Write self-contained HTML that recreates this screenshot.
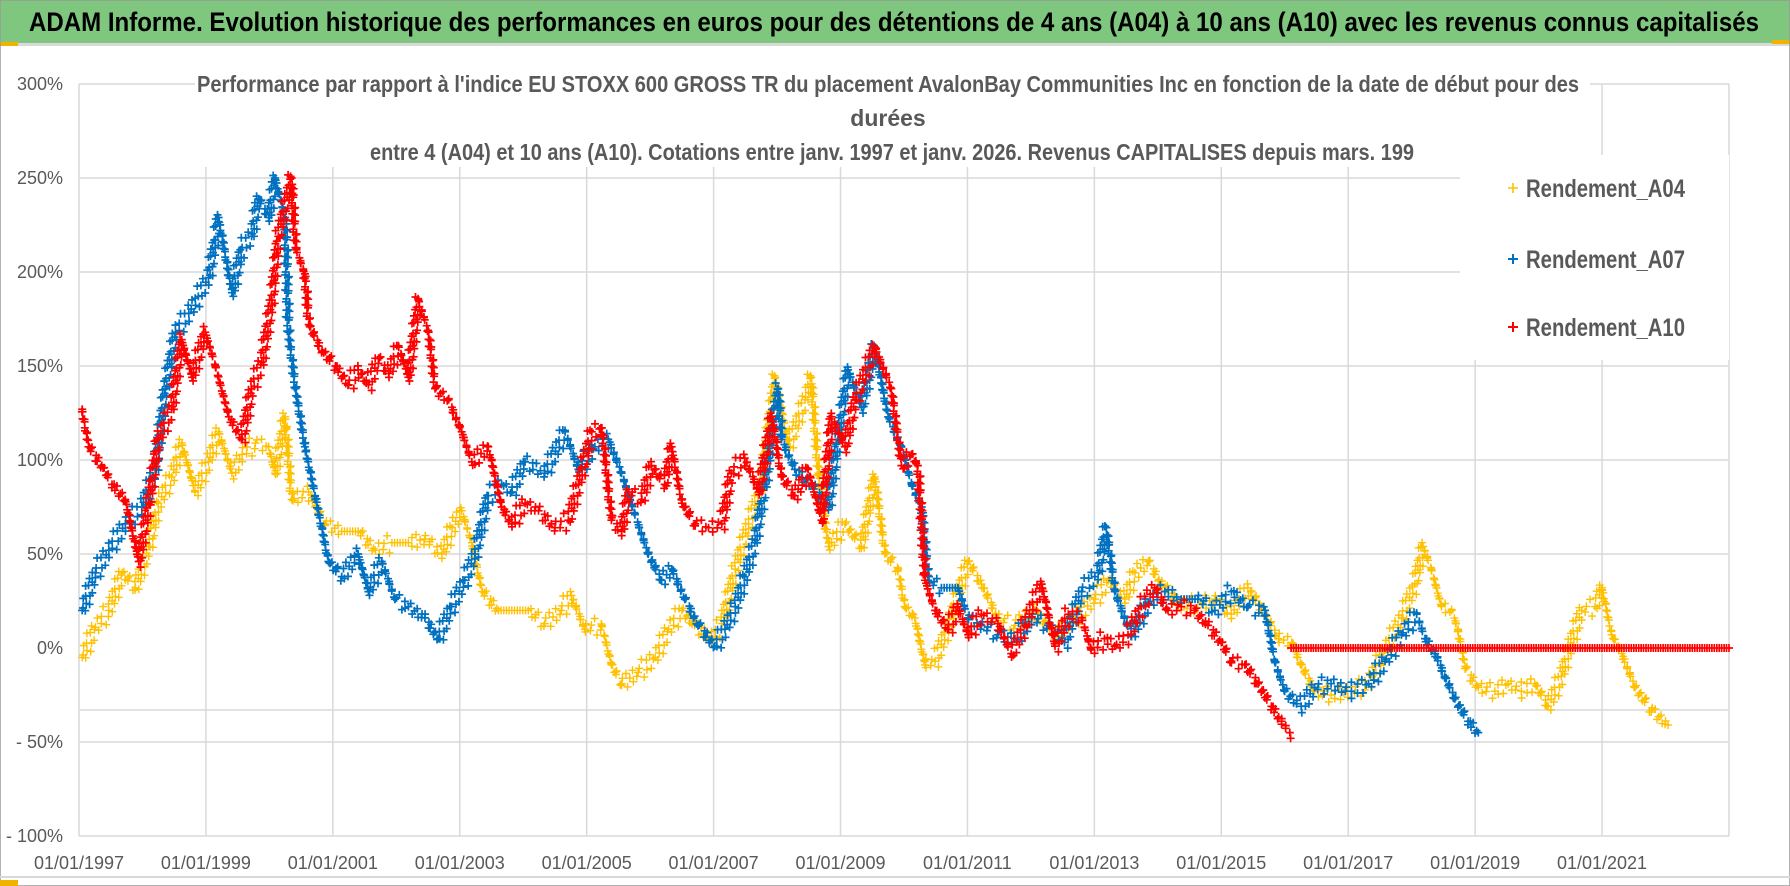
<!DOCTYPE html>
<html><head><meta charset="utf-8"><style>
html,body{margin:0;padding:0;background:#fff;width:1790px;height:886px;overflow:hidden}
svg{display:block;font-family:"Liberation Sans",sans-serif}
</style></head><body>
<svg id="chart" width="1790" height="886" viewBox="0 0 1790 886" xmlns="http://www.w3.org/2000/svg">
<rect x="0" y="0" width="1790" height="886" fill="#fff"/>
<rect x="0" y="0" width="1790" height="43" fill="#7fc67e"/>
<rect x="0" y="43" width="1790" height="3" fill="#d9d9d9"/>
<rect x="0" y="42" width="18" height="4" fill="#f0b400"/>
<rect x="1772" y="40" width="18" height="4" fill="#f0b400"/>
<rect x="0" y="0" width="1790" height="886" fill="none" stroke="#999" stroke-width="1.5"/>
<rect x="0" y="876" width="1790" height="2" fill="#d9d9d9"/>
<rect x="0" y="880" width="18" height="6" fill="#f0b400"/>
<text x="29" y="31" font-size="27" font-weight="bold" fill="#000" textLength="1730" lengthAdjust="spacingAndGlyphs">ADAM Informe. Evolution historique des performances en euros pour des détentions de 4 ans (A04) à 10 ans (A10) avec les revenus connus capitalisés</text>
<g id="grid"></g>
<g id="series"></g>
<rect x="195" y="66" width="1395" height="101" fill="#fff"/>
<g font-size="23" font-weight="bold" fill="#595959">
<text x="197" y="92" textLength="1382" lengthAdjust="spacingAndGlyphs">Performance par rapport à l'indice EU STOXX 600 GROSS TR  du placement AvalonBay Communities Inc en fonction de la date de début pour des</text>
<text x="888" y="126" text-anchor="middle">durées</text>
<text x="370" y="160" textLength="1044" lengthAdjust="spacingAndGlyphs">entre 4 (A04) et 10 ans (A10). Cotations entre janv. 1997 et janv. 2026. Revenus CAPITALISES depuis mars. 199</text>
</g>
<rect x="1460" y="155" width="269" height="205" fill="#fff"/>
<g id="legend" font-size="25" font-weight="bold" fill="#595959">
<g><path d="M1508 188h10M1513 183v10" stroke="#FFC000" stroke-width="1.6"/><text x="1526" y="197" textLength="159" lengthAdjust="spacingAndGlyphs">Rendement_A04</text></g>
<g><path d="M1508 259h10M1513 254v10" stroke="#0070C0" stroke-width="2"/><text x="1526" y="268" textLength="159" lengthAdjust="spacingAndGlyphs">Rendement_A07</text></g>
<g><path d="M1508 327h10M1513 322v10" stroke="#FF0000" stroke-width="2"/><text x="1526" y="336" textLength="159" lengthAdjust="spacingAndGlyphs">Rendement_A10</text></g>
</g>
<g id="axes" font-size="18" fill="#595959"></g>
</svg>
<script>
// X tick labels (years) and Y tick values
const xTickYears = [1997,1999,2001,2003,2005,2007,2009,2011,2013,2015,2017,2019,2021];
const yTickValues = [300,250,200,150,100,50,0,-50,-100];
const yTickLabels = ["300%","250%","200%","150%","100%","50%","0%","- 50%","- 100%"];
const yGridValues = [300,250,200,150,100,50,-33,-50,-100];
// Series A04: years since 01/01/1997, values in %
const datesA04 = [0.05,0.26,0.47,0.68,0.89,1.10,1.25,1.46,1.62,1.83,2.04,2.2,2.41,2.57,2.78,2.99,3.09,3.25,3.35,3.62,3.88,4.14,4.4,4.67,4.93,5.19,5.45,5.72,5.88,6.03,6.19,6.35,6.61,6.82,7.08,7.34,7.6,7.76,7.97,8.24,8.39,8.55,8.81,9.08,9.29,9.5,9.7,9.97,10.13,10.34,10.55,10.76,10.97,11.18,11.44,11.54,11.65,11.81,12.07,12.33,12.54,12.7,12.91,13.01,13.17,13.33,13.49,13.7,14.01,14.22,14.48,14.75,15.06,15.38,15.69,16.01,16.22,16.48,16.64,16.85,17.06,17.37,17.69,17.9,18.16,18.42,18.69,18.9,19.11,19.26,19.47,19.73,20.05,20.32,20.58,20.84,21.05,21.18,21.31,21.47,21.63,21.73,21.84,22.05,22.31,22.52,22.73,22.94,23.15,23.36,23.47,23.68,23.89,24.0,24.15,24.31,24.52,24.78,25.04];
const valuesA04 = [-5,11,20,40,32,54,77,91,109,83,99,115,93,103,109,107,93,123,79,83,66,62,62,52,56,56,58,50,64,73,56,30,20,20,20,13,20,28,10,12,-9,-19,-13,-5,10,20,12,5,13,42,66,87,144,107,132,144,93,54,66,54,91,50,42,22,16,-9,-7,12,46,34,16,12,20,7,16,26,36,26,40,46,34,22,24,26,18,32,18,5,3,-9,-23,-25,-23,-19,-1,16,34,54,42,22,20,10,-11,-21,-23,-19,-23,-19,-31,-15,-1,20,22,32,7,-3,-21,-33,-41];
// Series A07
const datesA07 = [0.05,0.26,0.47,0.73,0.99,1.2,1.36,1.52,1.73,1.88,2.04,2.15,2.2,2.41,2.57,2.72,2.83,2.99,3.09,3.25,3.3,3.41,3.56,3.72,3.93,4.14,4.4,4.56,4.77,4.98,5.19,5.45,5.66,5.87,6.08,6.24,6.45,6.66,6.82,7.03,7.34,7.66,7.87,8.13,8.34,8.55,8.76,8.97,9.18,9.34,9.55,9.76,10.02,10.18,10.34,10.49,10.65,10.81,11.02,11.07,11.28,11.54,11.81,11.96,12.12,12.33,12.54,12.75,12.96,13.12,13.28,13.38,13.59,13.85,14.01,14.22,14.48,14.75,15.01,15.27,15.53,15.8,16.06,16.19,16.32,16.58,16.85,17.11,17.37,17.63,17.9,18.16,18.42,18.69,18.84,19.0,19.26,19.47,19.73,20.05,20.32,20.58,20.84,21.08,21.21,21.37,21.52,21.68,21.89,22.05];
const valuesA07 = [20,40,52,66,75,95,138,168,178,187,197,217,229,189,213,219,239,229,250,229,168,138,107,81,46,38,50,30,46,26,22,16,5,22,36,50,81,87,83,99,93,115,95,107,111,93,71,50,36,42,26,12,1,10,22,38,56,87,138,111,95,87,75,111,148,128,160,123,107,87,75,36,32,32,16,12,7,5,16,12,3,30,40,64,30,7,24,30,26,26,20,30,22,20,-7,-23,-31,-21,-19,-23,-19,-7,7,18,5,-3,-15,-27,-39,-45];
// Series A10 (null = gap)
const datesA10 = [0.05,0.15,0.36,0.52,0.73,0.94,1.1,1.25,1.46,1.62,1.78,1.99,2.15,2.36,2.57,2.72,2.88,3.04,3.14,3.35,3.41,3.56,3.62,3.83,4.04,4.25,4.4,4.56,4.72,4.88,5.04,5.19,5.35,5.51,5.61,5.82,6.03,6.19,6.45,6.66,6.82,7.03,7.24,7.5,7.71,7.87,8.08,8.24,8.39,8.55,8.66,8.87,9.02,9.23,9.34,9.5,9.71,9.92,10.13,10.28,10.49,10.71,10.92,11.07,11.28,11.49,11.7,11.86,12.07,12.23,12.54,12.8,12.96,13.12,13.22,13.28,13.33,13.49,13.7,13.85,14.01,14.22,14.48,14.69,14.9,15.17,15.38,15.59,15.8,15.95,16.16,16.32,16.53,16.74,16.95,17.16,17.37,17.58,17.79,18.0,18.16,18.37,18.58,18.79,18.95,19.08,19.09,19.1,20,21,22,23,24,25,26];
const valuesA10 = [127,107,97,87,79,46,77,111,127,164,144,168,150,123,111,138,152,185,219,250,213,199,172,158,150,140,148,140,154,146,160,144,185,168,138,132,115,99,107,75,66,77,73,64,68,87,115,117,68,62,83,79,97,87,107,77,66,64,66,93,101,83,123,91,81,95,68,123,107,132,160,138,97,103,97,66,36,20,10,22,7,18,13,-3,12,34,1,18,16,-1,5,1,7,22,32,20,22,20,12,3,-7,-9,-19,-31,-39,-45,null,0,0,0,0,0,0,0,0];

const X0 = 79, PXY = 63.46, Y0 = 648, PXV = 1.88;
function xScale(yearsSince1997){ return X0 + yearsSince1997 * PXY; }
function yScale(v){ return Y0 - v * PXV; }
const NS = "http://www.w3.org/2000/svg";
const grid = document.getElementById('grid');
const axes = document.getElementById('axes');
const seriesLayer = document.getElementById('series');

yGridValues.forEach(v => {
  const l = document.createElementNS(NS,'line');
  
  
  l.setAttribute('x1', X0); l.setAttribute('x2', 1729);
  l.setAttribute('y1', yScale(v)); l.setAttribute('y2', yScale(v));
  l.setAttribute('stroke', '#d9d9d9'); l.setAttribute('stroke-width', '1.5');
  grid.appendChild(l);
});
[...xTickYears, 2023].forEach(yr => {
  const l = document.createElementNS(NS,'line');
  
  
  const x = xScale(yr - 1997);
  l.setAttribute('x1', x); l.setAttribute('x2', x);
  l.setAttribute('y1', yScale(300)); l.setAttribute('y2', yScale(-100));
  l.setAttribute('stroke', '#d9d9d9'); l.setAttribute('stroke-width', '1.5');
  grid.appendChild(l);
});
yTickValues.forEach((v,i) => {
  const t = document.createElementNS(NS,'text');
  
  
  t.setAttribute('x', 63); t.setAttribute('y', yScale(v) + 6);
  t.setAttribute('text-anchor', 'end');
  t.textContent = yTickLabels[i];
  axes.appendChild(t);
});
xTickYears.forEach(yr => {
  const t = document.createElementNS(NS,'text');
  
  
  t.setAttribute('x', xScale(yr - 1997)); t.setAttribute('y', 869);
  t.setAttribute('text-anchor', 'middle');
  t.textContent = '01/01/' + yr;
  axes.appendChild(t);
});

function drawSeries(dates, values, color, name, sw){
  let d = '';
  const offs = [0, 5, -5, 2.5, -2.5, 8, -8, 4, -4, 6, -6];
  let k = 0;
  const plus = (x,y) => { d += 'M' + (x-4).toFixed(1) + ' ' + y.toFixed(1) + 'h8M' + x.toFixed(1) + ' ' + (y-4).toFixed(1) + 'v8'; };
  for (let i = 0; i < dates.length; i++) {
    if (values[i] === null) continue;
    const x1 = xScale(dates[i]), y1 = yScale(values[i]);
    plus(x1, y1);
    if (i + 1 < dates.length && values[i+1] !== null) {
      const x2 = xScale(dates[i+1]), y2 = yScale(values[i+1]);
      const flat = values[i] === values[i+1];
      const len = Math.hypot(x2-x1, y2-y1);
      const n = Math.floor(len / 2.4);
      for (let j = 1; j < n; j++) {
        const t = j / n;
        const o = flat ? 0 : offs[k++ % offs.length];
        plus(x1 + (x2-x1)*t + (flat ? 0 : o*0.3), y1 + (y2-y1)*t + o);
      }
    }
  }
  const p = document.createElementNS(NS,'path');
  
  
  p.setAttribute('d', d);
  p.setAttribute('stroke', color);
  p.setAttribute('stroke-width', sw);
  p.setAttribute('fill', 'none');
  seriesLayer.appendChild(p);
}
drawSeries(datesA04, valuesA04, '#FFC000', 'series-a04', 1.4);
drawSeries(datesA07, valuesA07, '#0070C0', 'series-a07', 1.7);
drawSeries(datesA10, valuesA10, '#FF0000', 'series-a10', 1.7);
</script>
</body></html>
